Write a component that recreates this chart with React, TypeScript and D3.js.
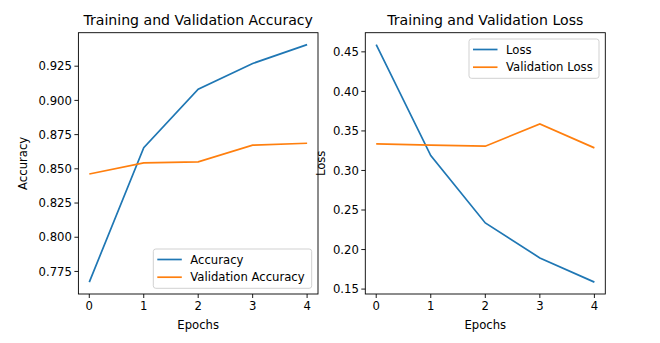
import React from "react";
import * as d3 from "d3";

const epochs = [0, 1, 2, 3, 4];
const accuracy = [0.7672, 0.8655, 0.9082, 0.927, 0.9408];
const valAccuracy = [0.8462, 0.8544, 0.8551, 0.8673, 0.8687];
const loss = [0.4592, 0.3189, 0.2336, 0.1894, 0.1588];
const valLoss = [0.3336, 0.332, 0.3307, 0.3588, 0.3286];
const accTicks = [0.775, 0.8, 0.825, 0.85, 0.875, 0.9, 0.925];
const lossTicks = [0.15, 0.2, 0.25, 0.3, 0.35, 0.4, 0.45];

const BLUE = "#1f77b4";
const ORANGE = "#ff7f0e";
const FONT = "DejaVu Sans";
const FS = 11.65;

type PanelProps = {
  left: number;
  right: number;
  title: string;
  ylabel: string;
  ylabelX: number;
  s1: number[];
  s2: number[];
  n1: string;
  n2: string;
  ticks: number[];
  fmt: (v: number) => string;
  legendPos: "lr" | "ur";
};

function Panel(p: PanelProps) {
  const top = 32.7;
  const bottom = 294;
  const all = [...p.s1, ...p.s2];
  const mn = d3.min(all)!;
  const mx = d3.max(all)!;
  const pad = (mx - mn) * 0.05;
  const y = d3.scaleLinear().domain([mn - pad, mx + pad]).range([bottom, top]);
  const x = d3.scaleLinear().domain([-0.2, 4.2]).range([p.left, p.right]);
  const line = d3
    .line<number>()
    .x((_, i) => x(epochs[i]))
    .y((d) => y(d));
  const cx = (p.left + p.right) / 2;

  const legW = p.legendPos === "lr" ? 158.4 : 130;
  const legH = 39.3;
  const legX = p.right - 6.3 - legW;
  const legY = p.legendPos === "lr" ? bottom - 5.7 - legH : top + 6.3;

  return (
    <g>
      <text x={cx} y={25} textAnchor="middle" fontSize={14.1} fontFamily={FONT} fill="#000">
        {p.title}
      </text>
      {p.ticks.map((t) => (
        <g key={t}>
          <line x1={p.left - 4} x2={p.left} y1={y(t)} y2={y(t)} stroke="#000" strokeWidth={0.9} />
          <text x={p.left - 6.5} y={y(t)} dy="0.36em" textAnchor="end" fontSize={FS} fontFamily={FONT} fill="#000">
            {p.fmt(t)}
          </text>
        </g>
      ))}
      {epochs.map((e) => (
        <g key={e}>
          <line x1={x(e)} x2={x(e)} y1={bottom} y2={bottom + 4} stroke="#000" strokeWidth={0.9} />
          <text x={x(e)} y={bottom + 7} dy="0.76em" textAnchor="middle" fontSize={FS} fontFamily={FONT} fill="#000">
            {e}
          </text>
        </g>
      ))}
      <text x={cx} y={328.5} textAnchor="middle" fontSize={FS} fontFamily={FONT} fill="#000">
        Epochs
      </text>
      <text
        transform={`translate(${p.ylabelX},${(top + bottom) / 2}) rotate(-90)`}
        textAnchor="middle"
        fontSize={FS}
        fontFamily={FONT}
        fill="#000"
      >
        {p.ylabel}
      </text>
      <path d={line(p.s1)!} fill="none" stroke={BLUE} strokeWidth={1.7} />
      <path d={line(p.s2)!} fill="none" stroke={ORANGE} strokeWidth={1.7} />
      <rect
        x={p.left}
        y={top}
        width={p.right - p.left}
        height={bottom - top}
        fill="none"
        stroke="#000"
        strokeWidth={0.9}
      />
      <g>
        <rect x={legX} y={legY} width={legW} height={legH} rx={2.5} fill="#fff" fillOpacity={0.8} stroke="#cccccc" strokeWidth={0.9} />
        {[
          { n: p.n1, c: BLUE },
          { n: p.n2, c: ORANGE },
        ].map((it, i) => {
          const yy = legY + 10.5 + i * 17.7;
          return (
            <g key={it.n}>
              <line x1={legX + 4} x2={legX + 28.5} y1={yy} y2={yy} stroke={it.c} strokeWidth={1.7} />
              <text x={legX + 37} y={yy} dy="0.36em" fontSize={FS} fontFamily={FONT} fill="#000">
                {it.n}
              </text>
            </g>
          );
        })}
      </g>
    </g>
  );
}

export default function App() {
  return (
    <svg width={660} height={343} style={{ position: "absolute", left: 0, top: 0, background: "#fff" }}>
      <rect width={660} height={343} fill="#fff" />
      <Panel
        left={78.4}
        right={318}
        title="Training and Validation Accuracy"
        ylabel="Accuracy"
        ylabelX={27}
        s1={accuracy}
        s2={valAccuracy}
        n1="Accuracy"
        n2="Validation Accuracy"
        ticks={accTicks}
        fmt={d3.format(".3f")}
        legendPos="lr"
      />
      <Panel
        left={365.3}
        right={605.3}
        title="Training and Validation Loss"
        ylabel="Loss"
        ylabelX={325}
        s1={loss}
        s2={valLoss}
        n1="Loss"
        n2="Validation Loss"
        ticks={lossTicks}
        fmt={d3.format(".2f")}
        legendPos="ur"
      />
    </svg>
  );
}
